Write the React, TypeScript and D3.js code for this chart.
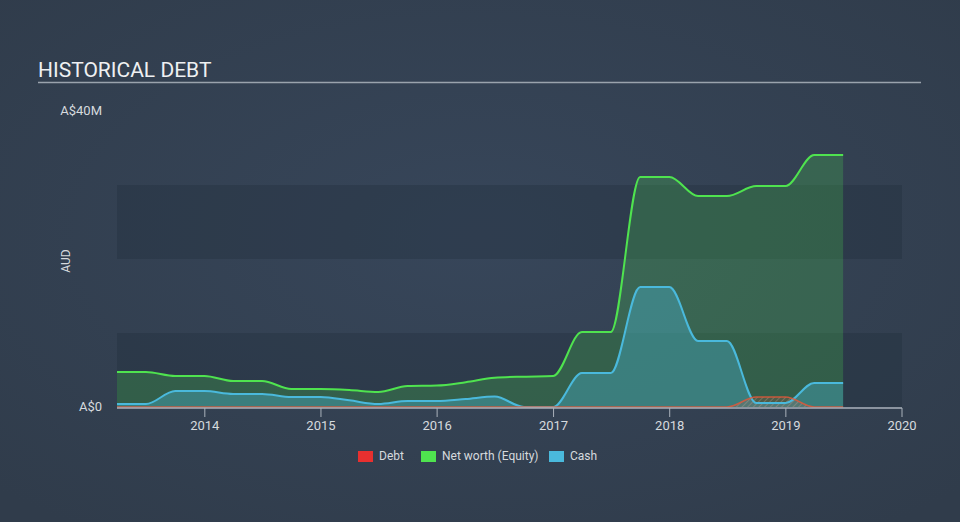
import React from "react";
import * as d3 from "d3";

const quarters = [
  "2013-03-31", "2013-06-30", "2013-09-30", "2013-12-31",
  "2014-03-31", "2014-06-30", "2014-09-30", "2014-12-31",
  "2015-03-31", "2015-06-30", "2015-09-30", "2015-12-31",
  "2016-03-31", "2016-06-30", "2016-09-30", "2016-12-31",
  "2017-03-31", "2017-06-30", "2017-09-30", "2017-12-31",
  "2018-03-31", "2018-06-30", "2018-09-30", "2018-12-31",
  "2019-03-31", "2019-06-30",
];

// values in A$ millions
const netWorth = [
  4.73, 4.73, 4.19, 4.19,
  3.51, 3.51, 2.43, 2.43,
  2.3, 2.03, 2.84, 2.9,
  3.35, 3.95, 4.1, 4.19,
  10.14, 10.14, 31.08, 31.08,
  28.51, 28.51, 29.86, 29.86,
  34.05, 34.05,
];

const cash = [
  0.4, 0.4, 2.16, 2.16,
  1.76, 1.76, 1.35, 1.35,
  0.9, 0.4, 0.8, 0.8,
  1.08, 1.42, 0, 0,
  4.59, 4.59, 16.2, 16.2,
  8.92, 8.92, 0.54, 0.54,
  3.24, 3.24,
];

const debt = [
  0, 0, 0, 0,
  0, 0, 0, 0,
  0, 0, 0, 0,
  0, 0, 0, 0,
  0, 0, 0, 0,
  0, 0, 1.35, 1.35,
  0, 0,
];

const xTickYears = [2014, 2015, 2016, 2017, 2018, 2019, 2020];
const yTickLabels = ["A$0", "A$40M"];
const yTickValues = [0, 40];
const legendItems = [
  { name: "Debt", color: "#e8302f" },
  { name: "Net worth (Equity)", color: "#4fe34f" },
  { name: "Cash", color: "#4ab9dc" },
];

const W = 960;
const H = 522;
const left = 117;
const right = 902;
const top = 111;
const bottom = 407;

export default function App() {
  const parse = d3.timeParse("%Y-%m-%d");
  const dates = quarters.map((q) => parse(q) as Date);
  const x = d3
    .scaleTime()
    .domain([dates[0], new Date(2020, 0, 1)])
    .range([left, right]);
  const y = d3.scaleLinear().domain([0, 40]).range([bottom, top]);

  const mk = (vals: number[]) => vals.map((v, i) => ({ d: dates[i], v }));
  const area = d3
    .area<{ d: Date; v: number }>()
    .x((p) => x(p.d))
    .y0(y(0))
    .y1((p) => y(p.v))
    .curve(d3.curveMonotoneX);
  const line = d3
    .line<{ d: Date; v: number }>()
    .x((p) => x(p.d))
    .y((p) => y(p.v))
    .curve(d3.curveMonotoneX);

  const bands = [0, 10, 20, 30];

  return (
    <div style={{ position: "absolute", left: 0, top: 0 }}>
      <svg width={W} height={H} style={{ display: "block", fontFamily: "Roboto, sans-serif" }}>
        <defs>
          <radialGradient id="bg" cx="50%" cy="45%" r="70%">
            <stop offset="0%" stopColor="#37465a" />
            <stop offset="100%" stopColor="#303c4b" />
          </radialGradient>
          <pattern id="hatch" width="4" height="4" patternUnits="userSpaceOnUse" patternTransform="rotate(45)">
            <rect width="4" height="4" fill="rgba(232,80,60,0.15)" />
            <line x1="0" y1="0" x2="0" y2="4" stroke="#c0a090" strokeWidth="1" opacity="0.7" />
          </pattern>
        </defs>
        <rect width={W} height={H} fill="url(#bg)" />
        {bands.map((b, i) =>
          i % 2 === 0 ? (
            <rect
              key={b}
              x={left}
              width={right - left}
              y={y(b + 10)}
              height={y(b) - y(b + 10)}
              fill="#1e2a38"
              opacity={0.3}
            />
          ) : null
        )}
        <text x={38} y={77} fill="#eef0f2" fontSize={21}>
          HISTORICAL DEBT
        </text>
        <line x1={38} x2={921} y1={82.5} y2={82.5} stroke="#9aa3ad" strokeWidth={1.5} />

        {yTickValues.map((v, i) => (
          <text key={v} x={102} y={y(v) + 4} textAnchor="end" fill="#d6dade" fontSize={13}>
            {yTickLabels[i]}
          </text>
        ))}
        <text
          transform={`translate(70,${(top + bottom) / 2 + 2}) rotate(-90)`}
          textAnchor="middle"
          fill="#d6dade"
          fontSize={12}
        >
          AUD
        </text>

        <path d={area(mk(netWorth)) || ""} fill="#4fe34f" opacity={0.22} />
        <path d={area(mk(cash)) || ""} fill="#4ab9dc" opacity={0.35} />
        <path d={area(mk(debt)) || ""} fill="url(#hatch)" />
        <path d={line(mk(netWorth)) || ""} fill="none" stroke="#4fe34f" strokeWidth={2} />
        <path d={line(mk(cash)) || ""} fill="none" stroke="#4ab9dc" strokeWidth={2} />
        <path d={line(mk(debt)) || ""} fill="none" stroke="#e0583a" strokeWidth={1.5} opacity={0.85} />

        <line x1={left} x2={right} y1={bottom + 1} y2={bottom + 1} stroke="#aab2bb" strokeWidth={1.5} />
        {xTickYears.map((yr) => {
          const xx = x(new Date(yr, 0, 1));
          return (
            <g key={yr}>
              <line x1={xx} x2={xx} y1={bottom + 1} y2={bottom + 10} stroke="#aab2bb" strokeWidth={1} />
              <text x={xx} y={bottom + 23} textAnchor="middle" fill="#d6dade" fontSize={13}>
                {yr}
              </text>
            </g>
          );
        })}

        {(() => {
          const xs = [358, 421, 549];
          return legendItems.map((it, i) => (
            <g key={it.name}>
              <rect x={xs[i]} y={451} width={15} height={11} fill={it.color} />
              <text x={xs[i] + 21} y={460} fill="#d6dade" fontSize={12}>
                {it.name}
              </text>
            </g>
          ));
        })()}
      </svg>
    </div>
  );
}
